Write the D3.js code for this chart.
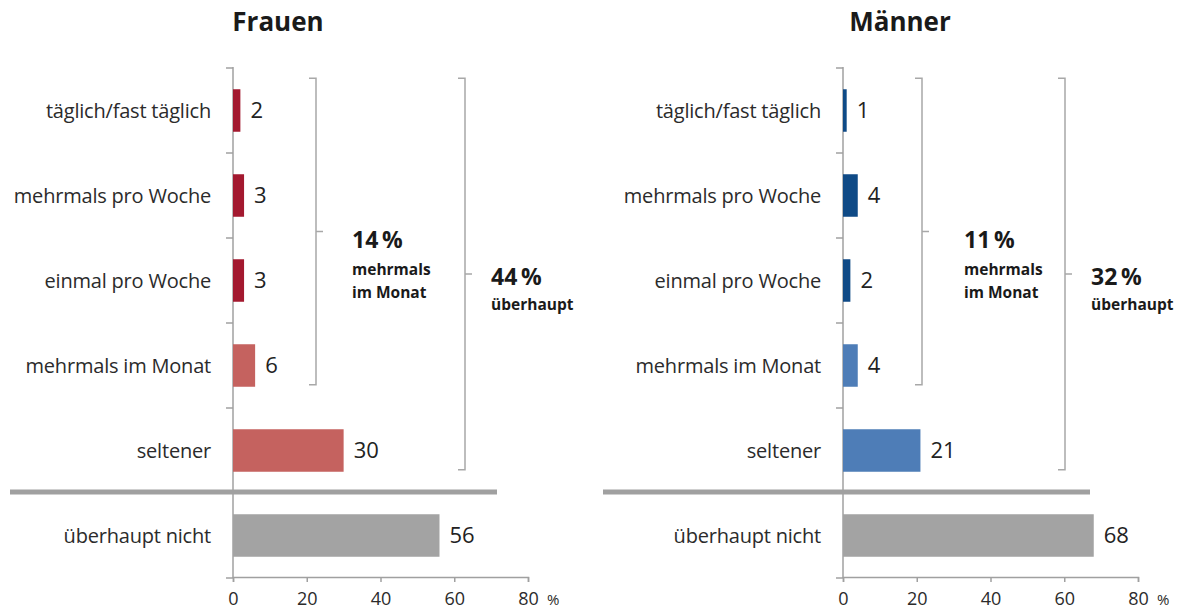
<!DOCTYPE html>
<html>
<head>
  <meta charset="utf-8" />
  <title>Frauen / Männer</title>
  <script src="https://d3js.org/d3.v7.min.js"></script>
  <style>
    body { margin: 0; background: #fff; }
    svg { font-family: "Open Sans", sans-serif; }
    .cat { font-size: 20px; fill: #2b2b2b; letter-spacing: -0.2px; }
    .val { font-size: 22px; fill: #222; }
    .title { font-size: 26px; font-weight: bold; fill: #1a1a1a; }
    .note-big { font-size: 23px; font-weight: bold; fill: #1a1a1a; }
    .note-small { font-size: 15.5px; font-weight: bold; fill: #1a1a1a; }
    .xaxis path, .xaxis line { stroke: #a0a0a0; stroke-width: 1.5; }
  </style>
</head>
<body>
<div id="chart"></div>
<script>
  // categories, top to bottom
  const categories = ["täglich/fast täglich", "mehrmals pro Woche", "einmal pro Woche",
                      "mehrmals im Monat", "seltener", "überhaupt nicht"];
  const frauenValues = [2, 3, 3, 6, 30, 56];
  const maennerValues = [1, 4, 2, 4, 21, 68];
  const xTicks = [0, 20, 40, 60, 80];
  // bracket totals: [inner (first 4), outer (first 5)]
  const frauenNotes = ["14\u2009%", "44\u2009%"];
  const maennerNotes = ["11\u2009%", "32\u2009%"];

  const width = 1184, height = 611;
  const svg = d3.select("#chart").append("svg")
    .attr("width", width).attr("height", height);

  function drawPanel(o) {
    const x = d3.scaleLinear().domain([0, 80]).range([o.x0, o.x0 + 295]);
    const y = d3.scaleBand().domain(categories).range([68, 578])
      .paddingInner(0.5).paddingOuter(0.25);
    const g = svg.append("g");

    // title
    g.append("text").attr("class", "title")
      .attr("x", o.titleX).attr("y", 31).attr("text-anchor", "middle")
      .text(o.title);

    // y axis line + boundary ticks
    g.append("line").attr("x1", x(0)).attr("x2", x(0))
      .attr("y1", 67).attr("y2", 578)
      .attr("stroke", "#a0a0a0").attr("stroke-width", 1.5);
    const step = y.step();
    d3.range(categories.length + 1).forEach(i => {
      const yy = 68 + i * step;
      g.append("line").attr("x1", x(0) - 7).attr("x2", x(0))
        .attr("y1", yy).attr("y2", yy)
        .attr("stroke", "#a0a0a0").attr("stroke-width", 1.5);
    });

    // x axis
    const xa = g.append("g").attr("class", "xaxis")
      .attr("transform", "translate(0,577)")
      .call(d3.axisBottom(x).tickValues(xTicks).tickSize(5).tickSizeOuter(5).tickPadding(10));
    xa.attr("font-size", null).attr("font-family", null);
    xa.selectAll("text").attr("font-size", 18).attr("fill", "#2b2b2b");
    g.append("text").attr("x", x(80) + 19).attr("y", 605)
      .attr("font-size", 15).attr("fill", "#2b2b2b").text("%");

    // bars
    g.selectAll(".bar").data(o.values).join("rect")
      .attr("class", "bar")
      .attr("x", x(0))
      .attr("y", (d, i) => y(categories[i]))
      .attr("width", d => x(d) - x(0))
      .attr("height", y.bandwidth())
      .attr("fill", (d, i) => o.colors[i]);

    // values
    g.selectAll(".val").data(o.values).join("text")
      .attr("class", "val")
      .attr("x", d => x(d) + 10)
      .attr("y", (d, i) => y(categories[i]) + y.bandwidth() / 2)
      .attr("dy", "0.36em")
      .text(d => d);

    // category labels
    g.selectAll(".cat").data(categories).join("text")
      .attr("class", "cat")
      .attr("x", x(0) - 22)
      .attr("y", d => y(d) + y.bandwidth() / 2)
      .attr("dy", "0.35em")
      .attr("text-anchor", "end")
      .text(d => d);

    // separator line above "überhaupt nicht"
    const sepY = 68 + 5 * step - 1;
    g.append("line").attr("x1", o.sepX[0]).attr("x2", o.sepX[1])
      .attr("y1", sepY).attr("y2", sepY)
      .attr("stroke", "#a0a0a0").attr("stroke-width", 5);

    // brackets
    function bracket(bx, lastCat) {
      const top = y(categories[0]) - 11;
      const bot = y(lastCat) + y.bandwidth() - 2;
      const mid = (top + bot) / 2;
      g.append("path")
        .attr("d", `M${bx - 7},${top}H${bx}V${bot}H${bx - 7}M${bx},${mid}H${bx + 7}`)
        .attr("fill", "none").attr("stroke", "#a8a8a8").attr("stroke-width", 1.5);
      return mid;
    }
    const m1 = bracket(x(0) + o.innerOff, categories[3]);
    const m2 = bracket(x(0) + o.outerOff, categories[4]);

    const t1 = x(0) + o.innerOff + o.innerTextOff;
    g.append("text").attr("class", "note-big").attr("x", t1).attr("y", m1 + 16).text(o.notes[0]);
    g.append("text").attr("class", "note-small").attr("x", t1).attr("y", m1 + 43).text("mehrmals");
    g.append("text").attr("class", "note-small").attr("x", t1).attr("y", m1 + 66).text("im Monat");

    const t2 = x(0) + o.outerOff + 26;
    g.append("text").attr("class", "note-big").attr("x", t2).attr("y", m2 + 11).text(o.notes[1]);
    g.append("text").attr("class", "note-small").attr("x", t2).attr("y", m2 + 36).text("überhaupt");
  }

  drawPanel({
    title: "Frauen", titleX: 278, x0: 233,
    values: frauenValues, notes: frauenNotes,
    colors: ["#a3192f", "#a3192f", "#a3192f", "#c5625f", "#c5625f", "#a3a3a3"],
    sepX: [10, 497], innerOff: 83, outerOff: 232, innerTextOff: 36
  });
  drawPanel({
    title: "Männer", titleX: 900, x0: 843,
    values: maennerValues, notes: maennerNotes,
    colors: ["#0f4a86", "#0f4a86", "#0f4a86", "#4e7db7", "#4e7db7", "#a3a3a3"],
    sepX: [603, 1090], innerOff: 79, outerOff: 222, innerTextOff: 42
  });
</script>
</body>
</html>
